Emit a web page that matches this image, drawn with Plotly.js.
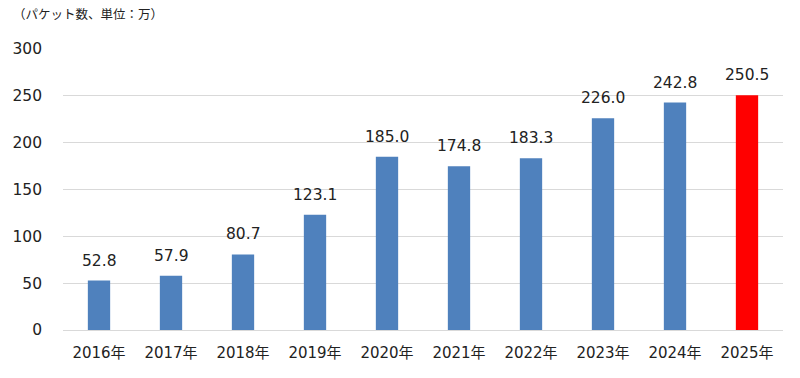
<!DOCTYPE html>
<html><head><meta charset="utf-8">
<script src="https://cdn.plot.ly/plotly-3.0.1.min.js"></script>
<style>body{margin:0;padding:0;background:#fff}#chart{width:800px;height:378px}</style>
</head><body>
<div id="chart"></div>
<script>
const categories = ["2016年","2017年","2018年","2019年","2020年","2021年","2022年","2023年","2024年","2025年"];
const values = [52.8, 57.9, 80.7, 123.1, 185.0, 174.8, 183.3, 226.0, 242.8, 250.5];
const barColors = ["#4f81bd","#4f81bd","#4f81bd","#4f81bd","#4f81bd","#4f81bd","#4f81bd","#4f81bd","#4f81bd","#ff0000"];
const yTicks = [0, 50, 100, 150, 200, 250, 300];

const font = "DejaVu Sans, 'Noto Sans CJK JP', sans-serif";
const trace = {
  type: "bar",
  x: categories,
  y: values,
  marker: {color: barColors},
  hoverinfo: "none"
};
const labelAnnotations = categories.map((c, i) => ({
  x: c, y: values[i], xref: "x", yref: "y",
  xanchor: "center", yanchor: "bottom", yshift: 9,
  text: values[i].toFixed(1), showarrow: false,
  font: {family: font, size: 15.5, color: "#222"}
}));
const layout = {
  width: 800, height: 378,
  margin: {l: 63, r: 17, t: 49, b: 48},
  paper_bgcolor: "#fff", plot_bgcolor: "#fff",
  bargap: 0.69,
  showlegend: false,
  font: {family: font, color: "#222"},
  xaxis: {
    type: "category",
    tickfont: {family: font, size: 15, color: "#222"},
    showgrid: false, zeroline: false, showline: false, ticks: "",
    ticklabelstandoff: 12
  },
  yaxis: {
    range: [0, 300],
    tickvals: yTicks,
    ticktext: yTicks.map(String),
    tickfont: {family: font, size: 15.5, color: "#222"},
    gridcolor: "#d9d9d9", gridwidth: 1,
    zeroline: true, zerolinecolor: "#d9d9d9", zerolinewidth: 1,
    showline: false, ticks: "",
    ticklabelstandoff: 20
  },
  annotations: labelAnnotations.concat([{
    xref: "paper", yref: "paper", x: -0.072, y: 1.125,
    xanchor: "left", yanchor: "middle",
    text: "（パケット数、単位：万）", showarrow: false,
    font: {family: "'Noto Sans CJK JP', sans-serif", size: 12.5, color: "#222"}
  }])
};
Plotly.newPlot("chart", [trace], layout, {displayModeBar: false, staticPlot: true});
</script>
</body></html>
